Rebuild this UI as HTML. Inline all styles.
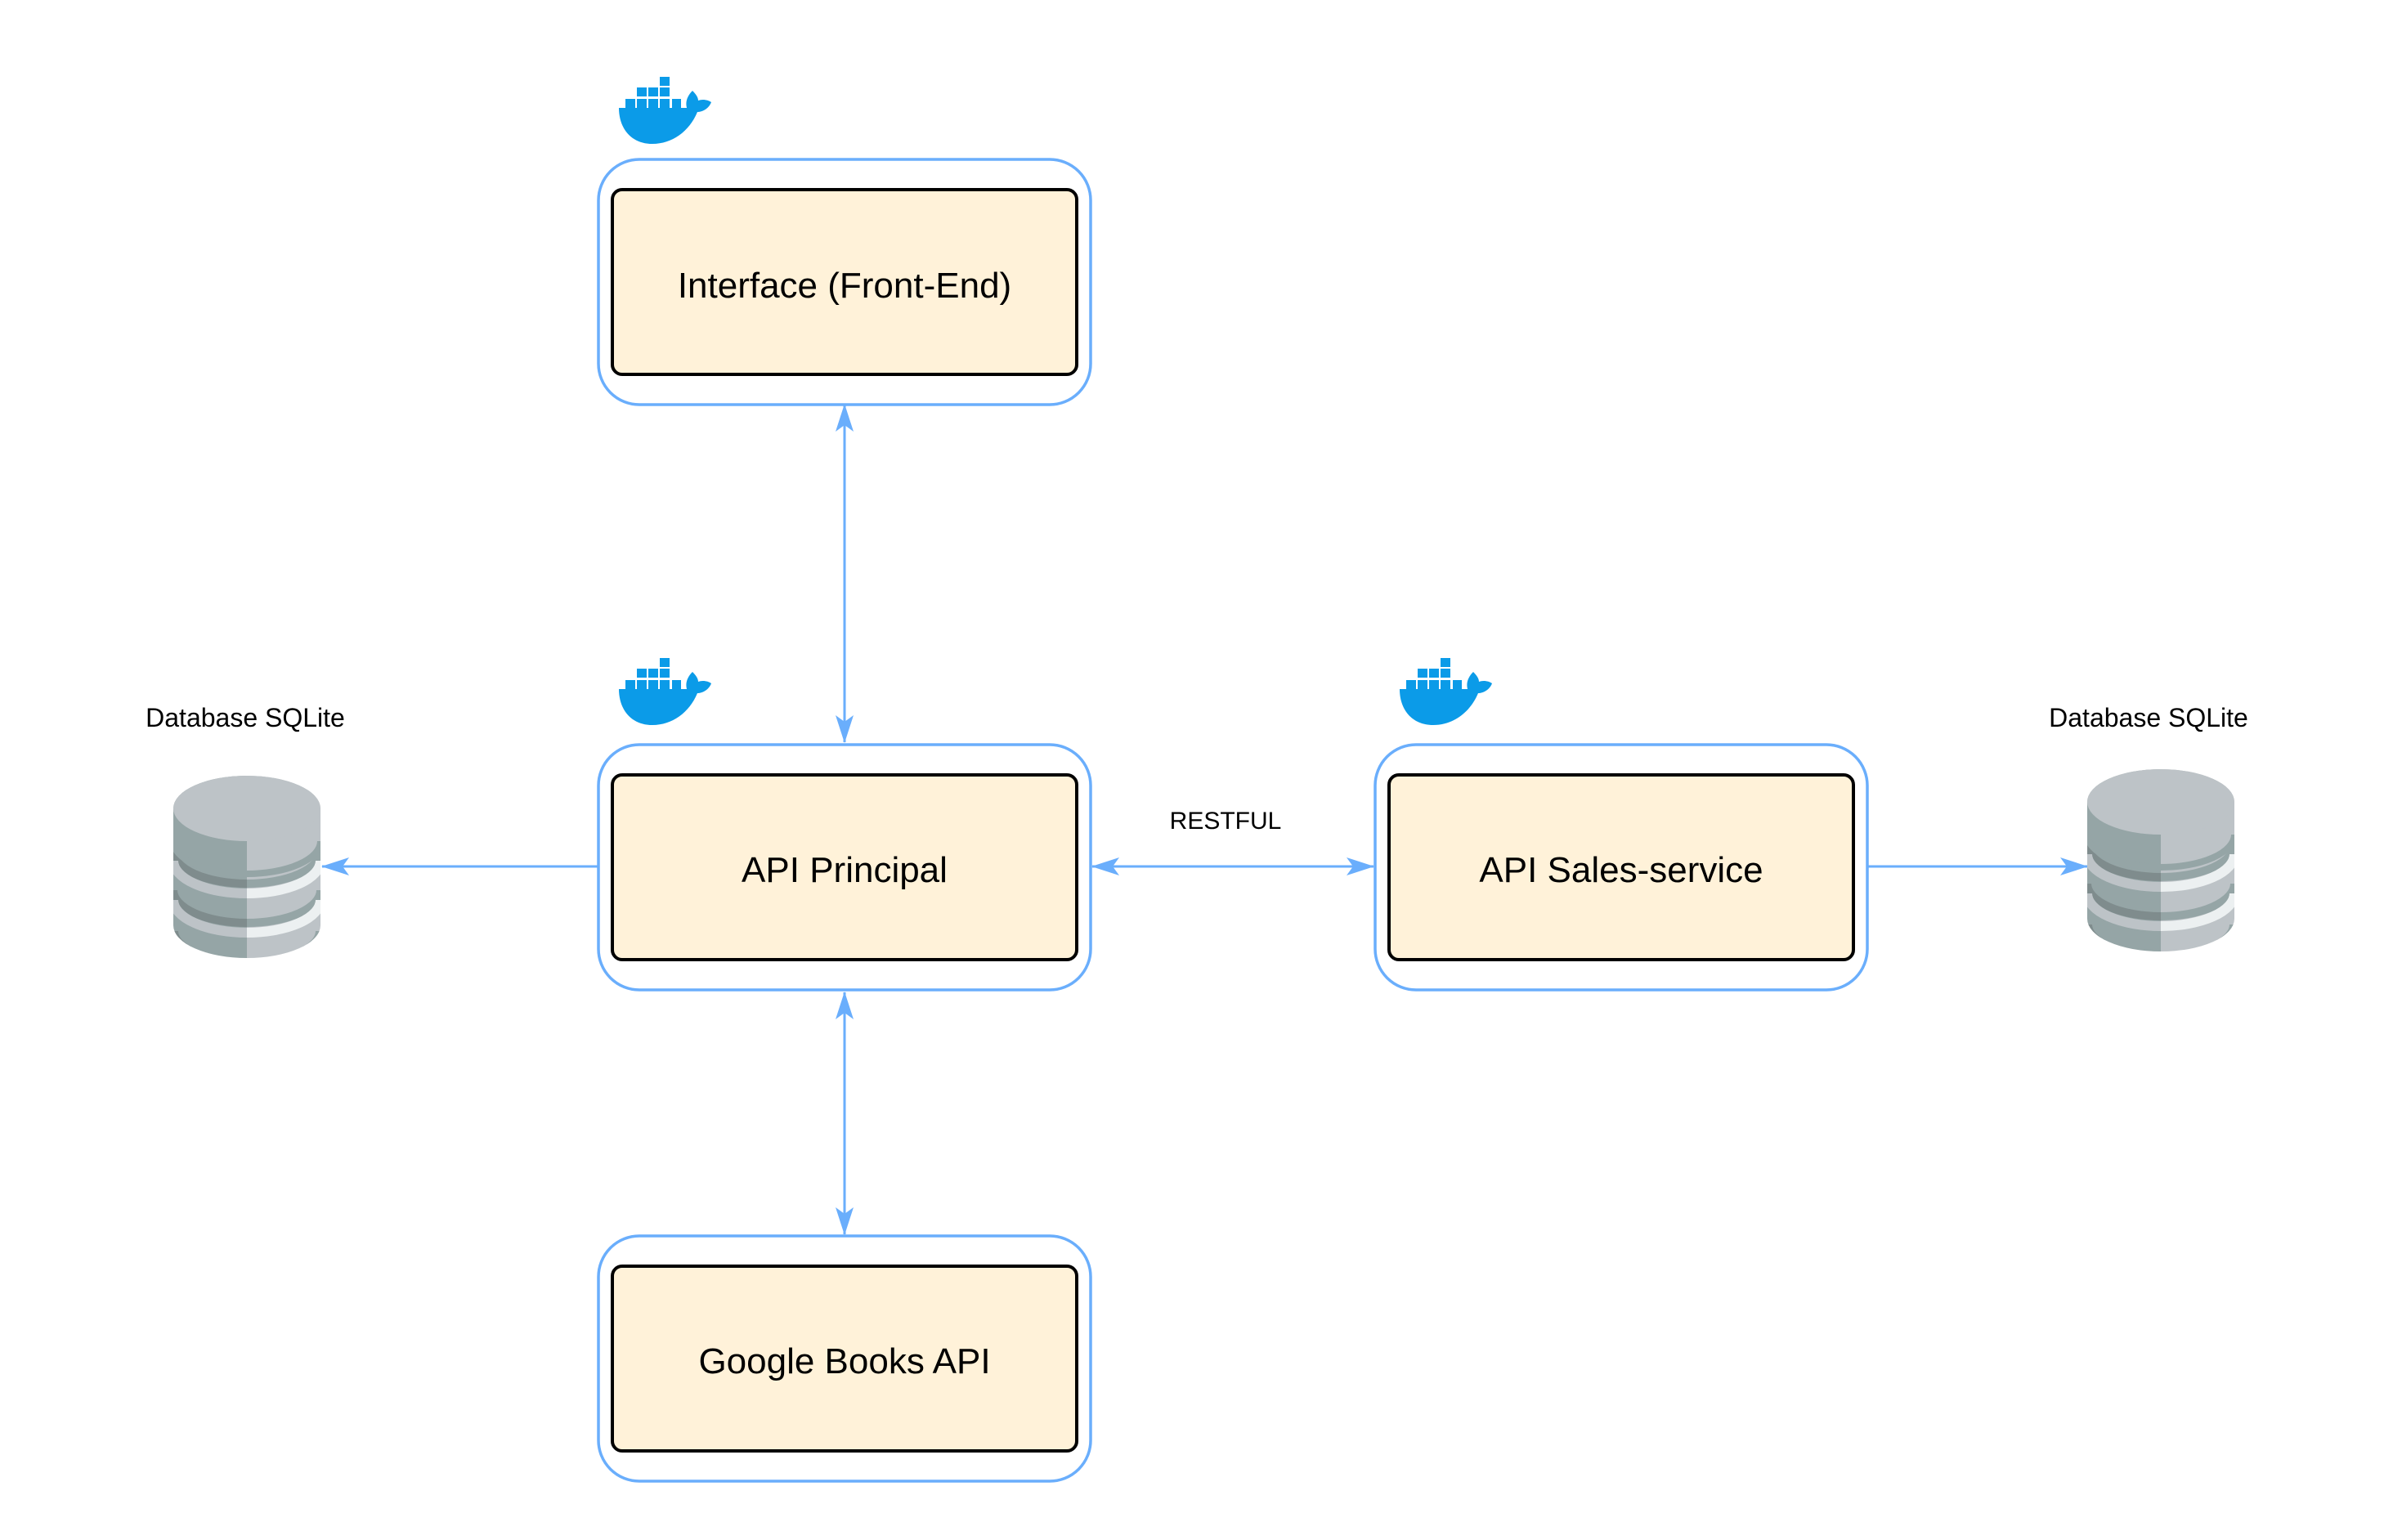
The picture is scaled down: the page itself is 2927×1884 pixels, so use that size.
<!DOCTYPE html>
<html><head><meta charset="utf-8"><style>
html,body{margin:0;padding:0;background:#fff;}
svg{display:block;}
text{font-family:"Liberation Sans",sans-serif;fill:#000;}
</style></head><body>
<svg width="2927" height="1884" viewBox="0 0 2927 1884" xmlns="http://www.w3.org/2000/svg">
<defs>
<marker id="ah" viewBox="0 0 34 22" refX="33" refY="11" markerWidth="34" markerHeight="22" markerUnits="userSpaceOnUse" orient="auto-start-reverse">
<path d="M0,0 L34,11 L0,22 L8,11 Z" fill="#6aaefc"/>
</marker>
<clipPath id="dbclip">
<path d="M0,40 A90,40 0 0 1 180,40 L180,183 A90,40 0 0 1 0,183 Z"/>
</clipPath>
<g id="whale">
<path d="M17,53 L100,53 C98,45 101,38 107,32 C111,36 114,40 114,44 C119,42 126,43 130,46 C127,54 119,58 113,58 C103,82 82,97 58,97 C32,97 17,78 17,53 Z" fill="#0b9be8"/>
<g fill="#0b9be8">
<rect x="67" y="15" width="12" height="11"/>
<rect x="39" y="28" width="12" height="11"/><rect x="53" y="28" width="12" height="11"/><rect x="67" y="28" width="12" height="11"/>
<rect x="25" y="42" width="12" height="11"/><rect x="39" y="42" width="12" height="11"/><rect x="53" y="42" width="12" height="11"/><rect x="67" y="42" width="12" height="11"/><rect x="82" y="42" width="11" height="11"/>
</g>
</g>
<g id="db">
<g clip-path="url(#dbclip)">
<rect x="0" y="0" width="90" height="230" fill="#95a5a6"/>
<rect x="90" y="0" width="90" height="230" fill="#bdc3c7"/>
<path d="M0,92 A90,40 0 0 0 90,132" fill="none" stroke="#7f8c8d" stroke-width="10"/>
<path d="M0,104 A90,40 0 0 0 90,144" fill="none" stroke="#bdc3c7" stroke-width="12"/>
<path d="M90,132 A90,40 0 0 0 180,92" fill="none" stroke="#95a5a6" stroke-width="10"/>
<path d="M90,144 A90,40 0 0 0 180,104" fill="none" stroke="#ecf0f1" stroke-width="12"/>
<path d="M0,140 A90,40 0 0 0 90,180" fill="none" stroke="#7f8c8d" stroke-width="10"/>
<path d="M0,152 A90,40 0 0 0 90,192" fill="none" stroke="#bdc3c7" stroke-width="12"/>
<path d="M90,180 A90,40 0 0 0 180,140" fill="none" stroke="#95a5a6" stroke-width="10"/>
<path d="M90,192 A90,40 0 0 0 180,152" fill="none" stroke="#ecf0f1" stroke-width="12"/>
<path d="M0,190 A90,40 0 0 0 90,230" fill="none" stroke="#7f8c8d" stroke-width="12"/>
<path d="M90,230 A90,40 0 0 0 180,190" fill="none" stroke="#95a5a6" stroke-width="12"/>
<path d="M0,80 A90,40 0 0 0 180,80" fill="none" stroke="#95a5a6" stroke-width="8"/>
</g>
<ellipse cx="90" cy="40" rx="90" ry="40" fill="#bdc3c7"/>
</g>
</defs>

<g stroke="#6aaefc" stroke-width="3" fill="none">
<line x1="1033" y1="495" x2="1033" y2="908" marker-start="url(#ah)" marker-end="url(#ah)"/>
<line x1="1033" y1="1214" x2="1033" y2="1510" marker-start="url(#ah)" marker-end="url(#ah)"/>
<line x1="748" y1="1060" x2="394" y2="1060" marker-end="url(#ah)"/>
<line x1="1336" y1="1060" x2="1680" y2="1060" marker-start="url(#ah)" marker-end="url(#ah)"/>
<line x1="2284" y1="1060" x2="2553" y2="1060" marker-end="url(#ah)"/>
</g>

<g fill="#fff" stroke="#6aaefc" stroke-width="3.5">
<rect x="732" y="195" width="602" height="300" rx="50"/>
<rect x="732" y="911" width="602" height="300" rx="50"/>
<rect x="732" y="1512" width="602" height="300" rx="50"/>
<rect x="1682" y="911" width="602" height="300" rx="50"/>
</g>
<g fill="#fff2d9" stroke="#000" stroke-width="4">
<rect x="749" y="232" width="568" height="226" rx="12"/>
<rect x="749" y="948" width="568" height="226" rx="12"/>
<rect x="749" y="1549" width="568" height="226" rx="12"/>
<rect x="1699" y="948" width="568" height="226" rx="12"/>
</g>
<g font-size="44" text-anchor="middle">
<text x="1033" y="364">Interface (Front-End)</text>
<text x="1033" y="1079">API Principal</text>
<text x="1033" y="1680">Google Books API</text>
<text x="1983" y="1079">API Sales-service</text>
</g>

<use href="#whale" x="740" y="79"/>
<use href="#whale" x="740" y="790"/>
<use href="#whale" x="1695" y="790"/>

<use href="#db" x="212" y="949"/>
<use href="#db" x="2553" y="941"/>

<g font-size="32" text-anchor="middle">
<text x="300" y="889">Database SQLite</text>
<text x="2628" y="889">Database SQLite</text>
<text x="1499" y="1014" font-size="30">RESTFUL</text>
</g>
</svg>
</body></html>
